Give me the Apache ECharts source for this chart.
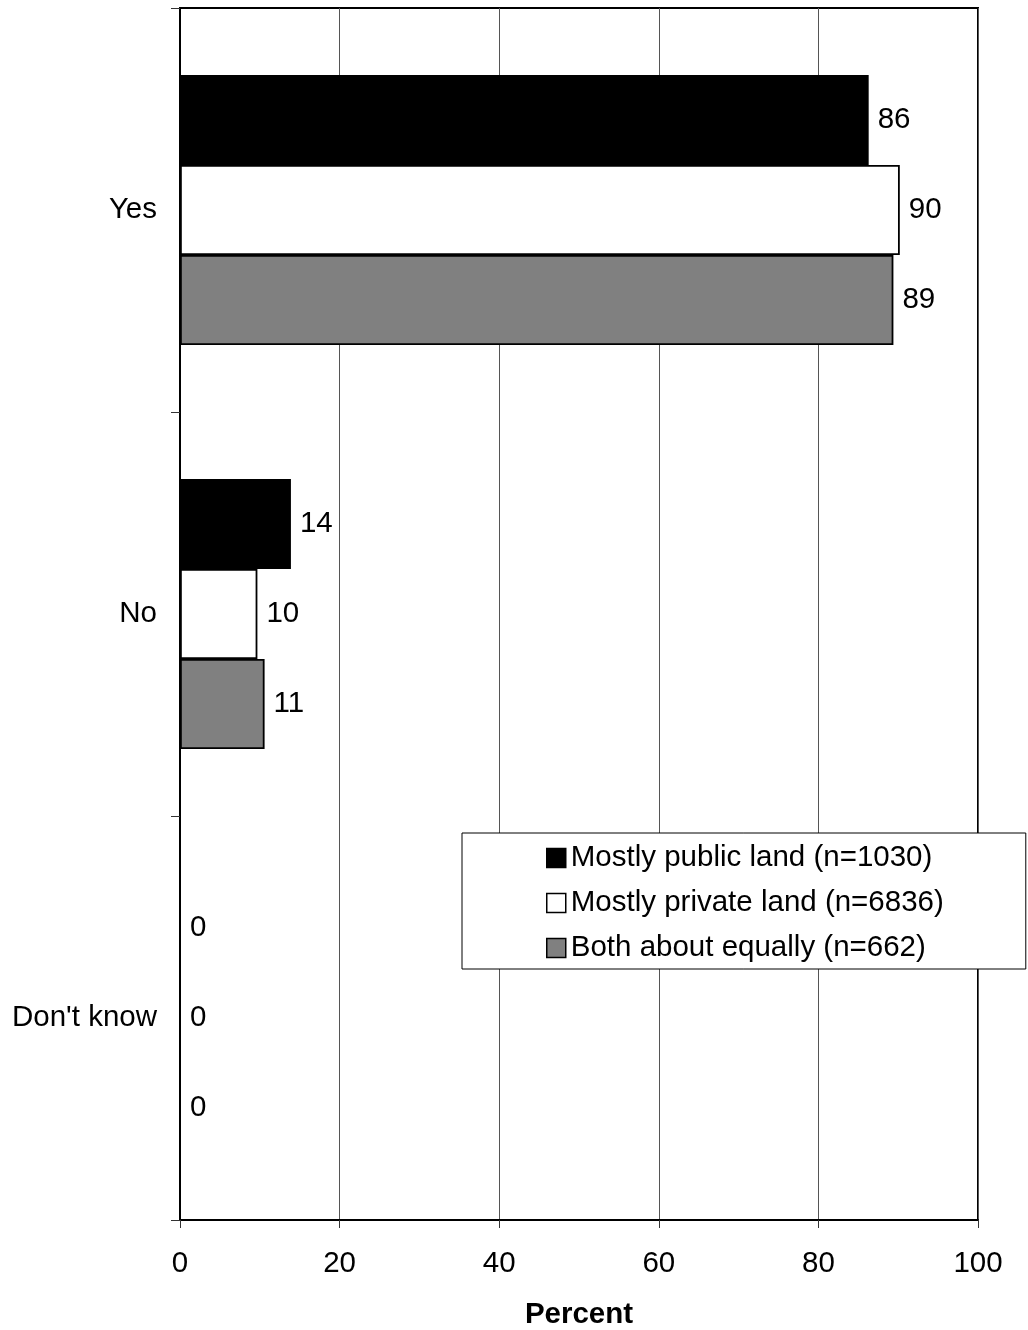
<!DOCTYPE html>
<html>
<head>
<meta charset="utf-8">
<script src="https://cdn.jsdelivr.net/npm/echarts@6/dist/echarts.min.js"></script>
<style>
  html, body { margin: 0; padding: 0; background: #fff; }
  #chart { width: 1028px; height: 1330px; }
</style>
</head>
<body>
<div id="chart"></div>
<script>
var categories = ['Yes', 'No', "Don't know"];
var seriesNames = ['Mostly public land (n=1030)', 'Mostly private land (n=6836)', 'Both about equally (n=662)'];
var publicLand = [86.3, 13.9, 0];
var privateLand = [90.2, 9.7, 0];
var bothEqual = [89.4, 10.6, 0];
var xTicks = { min: 0, max: 100, interval: 20 };
var xAxisTitle = 'Percent';

var FONT = '"Liberation Sans", Arial, sans-serif';
var FS = 29.5;
var fills = ['#000000', '#ffffff', '#808080'];
var seriesData = [publicLand, privateLand, bothEqual];

var chart = echarts.init(document.getElementById('chart'), null, { renderer: 'canvas' });

var series = seriesData.map(function (d, i) {
  return {
    name: seriesNames[i],
    type: 'bar',
    data: d,
    barWidth: 90,
    barGap: '0%',
    itemStyle: { color: fills[i], borderColor: '#000', borderWidth: 1.8 },
    label: {
      show: true,
      position: 'right',
      distance: 9,
      color: '#000',
      fontFamily: FONT,
      fontSize: FS,
      formatter: function (p) { return Math.round(p.value); }
    },
    emphasis: { disabled: true },
    animation: false
  };
});

chart.setOption({
  animation: false,
  backgroundColor: '#fff',
  textStyle: { fontFamily: FONT },
  grid: {
    left: 180, right: 50, top: 8, bottom: 110,
    containLabel: false,
    outerBoundsMode: 'none',
    show: true, borderColor: '#000', borderWidth: 2, backgroundColor: 'transparent'
  },
  legend: {
    orient: 'vertical',
    left: 462,
    top: 833,
    data: seriesNames,
    icon: 'rect',
    itemWidth: 19,
    itemHeight: 19,
    itemGap: 15,
    padding: [10, 82, 6, 84],
    borderColor: '#000',
    borderWidth: 1,
    backgroundColor: '#fff',
    textStyle: { fontFamily: FONT, fontSize: FS, color: '#000', lineHeight: 29 },
    itemStyle: { borderColor: '#000', borderWidth: 1.5 },
    selectedMode: false
  },
  xAxis: {
    type: 'value',
    min: xTicks.min, max: xTicks.max, interval: xTicks.interval,
    name: xAxisTitle,
    nameLocation: 'middle',
    nameGap: 80,
    nameTextStyle: { fontFamily: FONT, fontSize: FS, fontWeight: 'bold', color: '#000' },
    axisLine: { show: true, lineStyle: { color: '#000', width: 2 } },
    axisTick: { show: true, length: 8, lineStyle: { color: '#333', width: 1 } },
    axisLabel: { fontFamily: FONT, fontSize: FS, color: '#000', margin: 29 },
    splitLine: { show: true, lineStyle: { color: '#555', width: 1 } }
  },
  yAxis: {
    type: 'category',
    inverse: true,
    data: categories,
    axisLine: { show: true, lineStyle: { color: '#000', width: 2 } },
    axisTick: { show: true, length: 9, alignWithLabel: false, interval: 0, lineStyle: { color: '#333', width: 1 } },
    axisLabel: { fontFamily: FONT, fontSize: FS, color: '#000', margin: 23 },
    splitLine: { show: false }
  },
  series: series
});
</script>
</body>
</html>
